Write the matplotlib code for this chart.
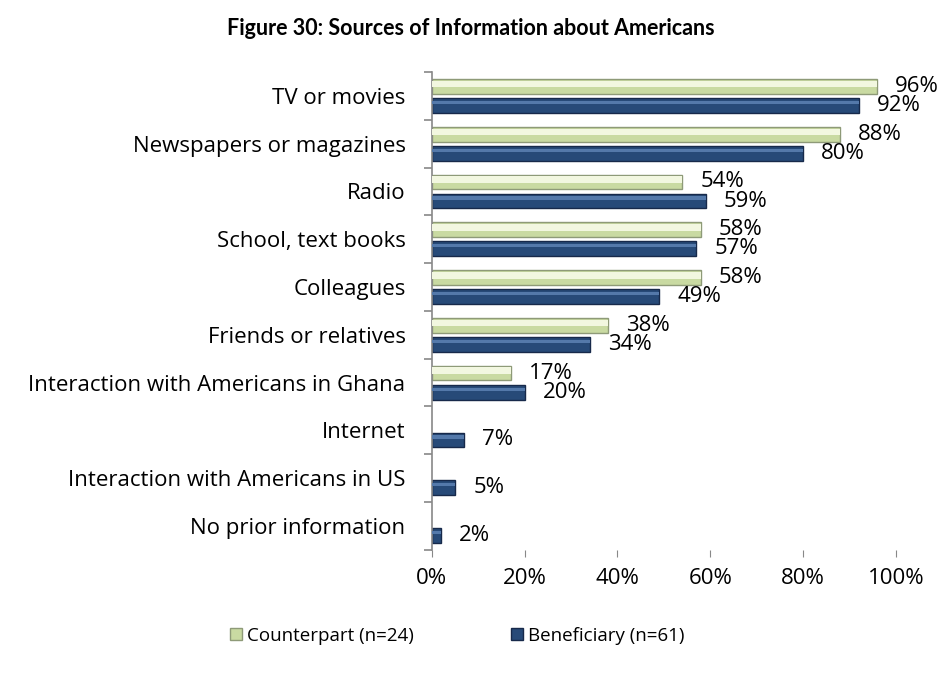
import numpy as np
import matplotlib.pyplot as plt
from matplotlib.lines import Line2D

plt.rcParams["font.family"] = ["Open Sans", "DejaVu Sans"]

categories = ["TV or movies", "Newspapers or magazines", "Radio", "School, text books",
              "Colleagues", "Friends or relatives", "Interaction with Americans in Ghana",
              "Internet", "Interaction with Americans in US", "No prior information"]
counterpart = [96, 88, 54, 58, 58, 38, 17, np.nan, np.nan, np.nan]
beneficiary = [92, 80, 59, 57, 49, 34, 20, 7, 5, 2]
xticks = [0, 20, 40, 60, 80, 100]

GREEN, GREEN_HI, GREEN_EDGE = "#C9DAA2", "#F2F7E0", "#8E9A78"
BLUE, BLUE_HI, BLUE_EDGE = "#274A78", "#5479AA", "#17294A"

fig = plt.figure(figsize=(9.41, 6.73), dpi=100)
ax = fig.add_axes([0.459, 0.183, 0.493, 0.710])

y = np.arange(len(categories))
h = 0.31
off = 0.2
ax.barh(y - off, counterpart, height=h, color=GREEN, edgecolor=GREEN_EDGE, linewidth=1, zorder=2)
ax.barh(y - off - h * 0.15, counterpart, height=h * 0.45, color=GREEN_HI, linewidth=0, zorder=3)
ax.barh(y + off, beneficiary, height=h, color=BLUE, edgecolor=BLUE_EDGE, linewidth=1, zorder=2)
ax.barh(y + off - h * 0.2, beneficiary, height=h * 0.22, color=BLUE_HI, linewidth=0, zorder=3)

for yi, v in zip(y, counterpart):
    if not np.isnan(v):
        ax.annotate(f"{v:.0f}%", (v, yi - off), xytext=(13, 0), textcoords="offset points",
                    va="center", ha="left", fontsize=16)
for yi, v in zip(y, beneficiary):
    ax.annotate(f"{v:.0f}%", (v, yi + off), xytext=(13, 0), textcoords="offset points",
                va="center", ha="left", fontsize=16)

ax.set_ylim(len(categories) - 0.5, -0.5)
ax.set_xlim(0, 100)
ax.set_yticks(y)
ax.set_yticklabels(categories, fontsize=16)
ax.set_yticks(np.arange(len(categories) + 1) - 0.5, minor=True)
ax.tick_params(axis="y", which="major", length=0, pad=19)
ax.tick_params(axis="y", which="minor", length=6, color="#888888", width=1.2)
ax.set_xticks(xticks)
ax.set_xticklabels([f"{t}%" for t in xticks], fontsize=16)
ax.tick_params(axis="x", length=5, color="#888888", pad=8)
for s in ["top", "right"]:
    ax.spines[s].set_visible(False)
ax.spines["bottom"].set_visible(False)
ax.spines["left"].set_color("#888888")
ax.spines["left"].set_linewidth(1.2)

fig.text(0.5, 0.958, "Figure 30: Sources of Information about Americans",
         ha="center", va="center", fontsize=15.5, fontweight="bold", family=["Lato", "DejaVu Sans"])

handles = [Line2D([], [], marker="s", linestyle="none", markersize=8.5,
                  markerfacecolor=GREEN, markeredgecolor=GREEN_EDGE),
           Line2D([], [], marker="s", linestyle="none", markersize=8.5,
                  markerfacecolor=BLUE, markeredgecolor=BLUE_EDGE)]
fig.legend(handles, ["Counterpart (n=24)", "Beneficiary (n=61)"], loc="center",
           bbox_to_anchor=(0.484, 0.055), ncol=2, frameon=False, fontsize=13.5,
           handlelength=1.0, handletextpad=0.1, columnspacing=5.0)

fig.savefig("out.png", dpi=100)
